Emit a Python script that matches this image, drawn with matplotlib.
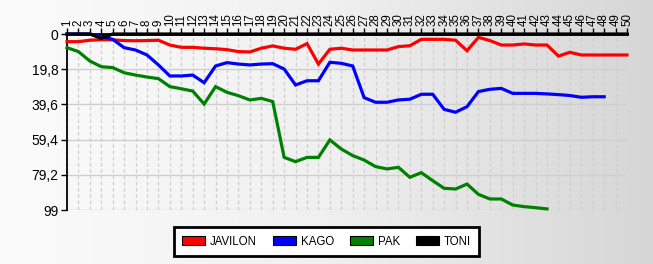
import matplotlib
matplotlib.use("Agg")
import matplotlib.pyplot as plt
import numpy as np
from matplotlib.patches import Patch
from matplotlib.ticker import FuncFormatter

plt.rcParams['font.family'] = ['Liberation Sans', 'DejaVu Sans']

rounds = list(range(1, 51))
javilon = [4.3, 4.3, 3.5, 3.2, 3.3, 3.7, 3.8, 3.7, 3.5, 6.2,
           7.5, 7.5, 8.0, 8.3, 8.8, 9.9, 10.1, 8.0, 6.7, 8.0,
           8.6, 5.4, 16.9, 8.6, 8.0, 9.0, 9.0, 9.0, 9.0, 7.1,
           6.6, 3.0, 3.0, 3.0, 3.5, 9.4, 1.9, 3.7, 6.2, 6.2,
           5.6, 6.2, 6.2, 12.4, 10.3, 11.8, 11.8, 11.8, 11.8, 11.8]
kago = [0, 0, 0, 1.5, 3.0, 7.7, 9.0, 11.8, 17.4, 23.6,
        23.6, 23.1, 27.4, 18.0, 16.1, 16.9, 17.4, 16.9, 16.7, 19.7,
        28.7, 26.3, 26.3, 15.9, 16.5, 18.0, 35.8, 38.4, 38.4, 37.1,
        36.7, 33.9, 33.9, 42.4, 44.0, 40.9, 32.4, 31.1, 30.6, 33.4,
        33.4, 33.4, 33.7, 34.1, 34.6, 35.6, 35.3, 35.3]
pak = [7.7, 9.9, 15.2, 18.4, 18.9, 21.8, 23.1, 24.2, 25.1, 29.6,
       30.8, 32.1, 39.4, 29.6, 32.8, 34.7, 37.1, 36.2, 38.0, 69.4,
       71.8, 69.4, 69.4, 59.6, 64.7, 68.4, 70.9, 74.6, 75.9, 75.0,
       80.6, 78.0, 82.5, 86.8, 87.2, 84.4, 90.2, 92.8, 92.8, 96.2,
       97.1, 97.7, 98.4]
toni = [0, 0, 0, 2.5] + [0] * 46
y_ticks = [0, 19.8, 39.6, 59.4, 79.2, 99]

series = [("JAVILON", javilon, "#ff0000"), ("KAGO", kago, "#0000ff"),
          ("PAK", pak, "#008000"), ("TONI", toni, "#000000")]

fig = plt.figure(figsize=(6.53, 2.64), dpi=100)

# background gradient
bg = fig.add_axes([0, 0, 1, 1], zorder=-10)
grad = np.linspace(0, 1, 256).reshape(1, -1)
from matplotlib.colors import LinearSegmentedColormap
cmap = LinearSegmentedColormap.from_list("g", ["#fbfbfb", "#f0f0f0", "#d6d6d6"])
bg.imshow(grad, aspect='auto', cmap=cmap, extent=[0, 1, 0, 1])
bg.set_axis_off()

ax = fig.add_axes([67/653, 1-210/264, 560/653, 176/264])
ax.set_facecolor('none')

for name, vals, col in series:
    ax.plot(rounds[:len(vals)], vals, color=col, lw=2.3, clip_on=False,
            solid_joinstyle='miter', zorder=3)

ax.set_xlim(1, 50)
ax.set_ylim(99, 0)
ax.set_yticks(y_ticks)
ax.yaxis.set_major_formatter(FuncFormatter(lambda v, p: ("%g" % v).replace('.', ',')))
ax.set_xticks(rounds)
ax.xaxis.tick_top()
ax.set_xticklabels([str(r) for r in rounds], rotation=90, fontsize=8.3)
ax.tick_params(axis='x', length=4, width=1, pad=2, color='black')
ax.tick_params(axis='y', length=4, width=1, pad=2, labelsize=10)

ax.grid(axis='x', color='#d0d0d0', ls=(0, (3, 2)), lw=0.9)
ax.grid(axis='y', color='#cfcfcf', ls='-', lw=1.0)
ax.set_axisbelow(True)

for s in ['right', 'bottom']:
    ax.spines[s].set_visible(False)
ax.spines['left'].set_linewidth(1.3)
ax.spines['top'].set_linewidth(2.0)

handles = [Patch(facecolor=c, edgecolor='black', lw=0.8, label=n) for n, v, c in series]
leg = fig.legend(handles=handles, loc='center', bbox_to_anchor=(0.5, 0.085), ncol=4,
                 fontsize=8.3, frameon=True, fancybox=False, handlelength=2.0,
                 handleheight=0.75, handletextpad=0.4, columnspacing=1.4,
                 borderpad=0.7)
leg.get_frame().set_edgecolor('black')
leg.get_frame().set_linewidth(2.0)
leg.get_frame().set_facecolor('white')
leg.get_frame().set_alpha(1)

fig.savefig("out.png", dpi=100)
